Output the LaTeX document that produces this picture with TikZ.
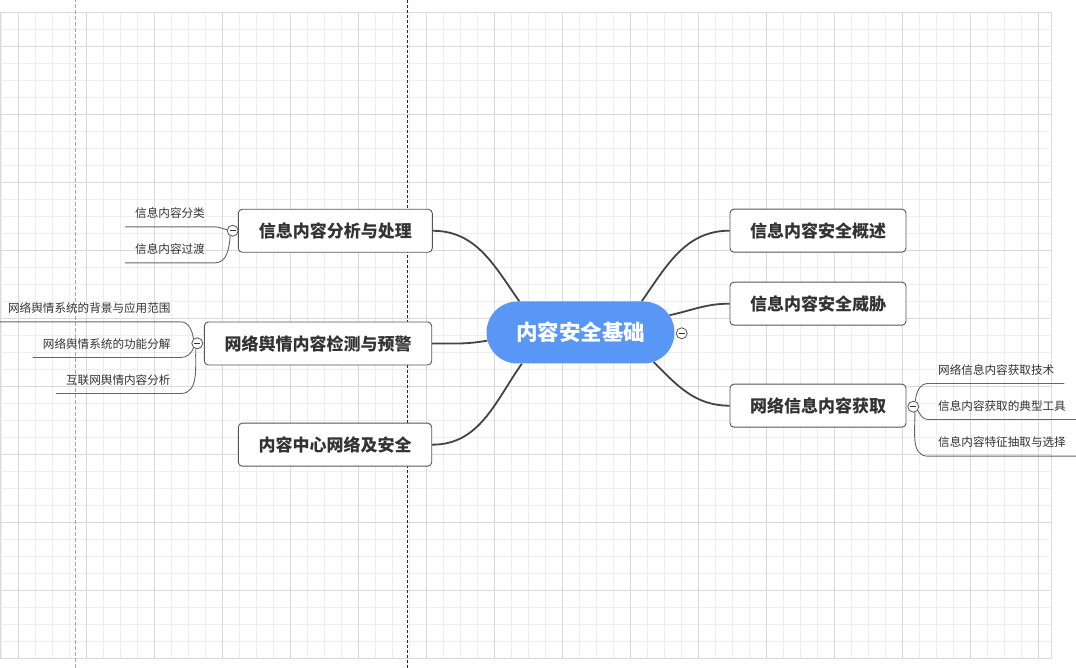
\documentclass[tikz,border=0pt]{standalone}
\usepackage{fontspec}
\setmainfont{Noto Sans CJK SC}
\usetikzlibrary{shapes.misc,backgrounds}
\definecolor{gridminor}{HTML}{EEEEEE}
\definecolor{gridmajor}{HTML}{DADADA}
\definecolor{nodeborder}{HTML}{555555}
\definecolor{textdark}{HTML}{333333}
\definecolor{linedark}{HTML}{444444}
\definecolor{linegray}{HTML}{666666}
\definecolor{mainblue}{HTML}{5897F5}
\definecolor{dashgray}{HTML}{A8A8A8}
\definecolor{dashblue}{HTML}{1010C8}
\begin{document}
\begin{tikzpicture}[x=1pt,y=1pt,
  branch/.style={draw=nodeborder, line width=0.9pt, fill=white, rounded corners=4pt,
    minimum height=43pt, inner sep=0pt, text=textdark,
    font=\fontsize{17}{17}\selectfont\bfseries},
  leaf/.style={inner xsep=10pt, inner ysep=0pt, minimum height=27pt, text=textdark,
    font=\fontsize{11.6}{11.6}\selectfont},
  collapse/.style={circle, draw=nodeborder, fill=white, line width=0.8pt,
    minimum size=11pt, inner sep=0pt,
    path picture={\draw[line width=0.9pt,textdark]
      ([xshift=-3pt]path picture bounding box.center) --
      ([xshift=3pt]path picture bounding box.center);}},
  trunk/.style={draw=linedark, line width=1.8pt},
  twig/.style={draw=linegray, line width=0.9pt},
  minorline/.style={draw=gridminor, line width=0.8pt},
  majorline/.style={draw=gridmajor, line width=0.8pt},
]
\useasboundingbox (0,0) rectangle (1076,668);

\begin{pgfonlayer}{background}
  \fill[white] (0,0) rectangle (1076,668);
  \foreach \i in {0,...,61} \draw[minorline] ({1.3+17*\i},9.7) -- ({1.3+17*\i},655.7);
  \foreach \j in {0,...,38} \draw[minorline] (1.3,{9.7+17*\j}) -- (1051.3,{9.7+17*\j});
  \foreach \i in {0,...,15} \draw[majorline] ({18.3+68*\i},9.7) -- ({18.3+68*\i},655.7);
  \foreach \j in {0,...,8} \draw[majorline] (1.3,{77.7+68*\j}) -- (1051.3,{77.7+68*\j});
  \draw[majorline] (0.5,9.7) rectangle (1051.3,655.7);
  \draw[dashgray, line width=0.9pt, dash pattern=on 4pt off 2pt] (75.3,0) -- (75.3,668);
  \draw[dashblue, line width=0.9pt, dash pattern=on 3pt off 2pt] (407.3,0) -- (407.3,668);
\end{pgfonlayer}

% central topic
\node[rounded rectangle, fill=mainblue, minimum width=188pt, minimum height=62pt,
  inner sep=0pt, text=white, font=\fontsize{21.5}{21.5}\selectfont\bfseries]
  (ctr) at (580.5,335.5) {内容安全基础};
\node[collapse] (cc) at (681.7,334.7) {};

% right branches
\node[branch, minimum width=176pt] (r1) at (818,437.3) {信息内容安全概述};
\node[branch, minimum width=176pt] (r2) at (818,364.3) {信息内容安全威胁};
\node[branch, minimum width=176pt] (r3) at (818,262.3) {网络信息内容获取};
\node[collapse] (cr3) at (913.3,261.3) {};

% left branches
\node[branch, minimum width=194pt] (l1) at (335.3,437.2) {信息内容分析与处理};
\node[collapse] (cl1) at (232.7,437.3) {};
\node[branch, minimum width=227.4pt] (l2) at (318,324.5) {网络舆情内容检测与预警};
\node[collapse] (cl2) at (197.3,324.7) {};
\node[branch, minimum width=193.4pt] (l3) at (335,223.3) {内容中心网络及安全};

% leaves of l1
\node[leaf, anchor=east] (a1) at (215,454.8) {信息内容分类};
\node[leaf, anchor=east] (a2) at (215,418.8) {信息内容过渡};
% leaves of l2
\node[leaf, anchor=east] (b1) at (180.7,359.8) {网络舆情系统的背景与应用范围};
\node[leaf, anchor=east] (b2) at (180.7,324.2) {网络舆情系统的功能分解};
\node[leaf, anchor=east] (b3) at (180.7,288.2) {互联网舆情内容分析};
% leaves of r3
\node[leaf, anchor=west] (d1) at (928,298.2) {网络信息内容获取技术};
\node[leaf, anchor=west] (d2) at (928,262.2) {信息内容获取的典型工具};
\node[leaf, anchor=west] (d3) at (928,225.5) {信息内容特征抽取与选择};

\begin{pgfonlayer}{background}
  % trunk connectors
  \draw[trunk] (l1.east) to[out=0,in=125] (ctr.153);
  \draw[trunk] (l2.east) to[out=0,in=190] (ctr.185);
  \draw[trunk] (l3.east) to[out=0,in=235] (ctr.-152);
  \draw[trunk] (r1.west) to[out=180,in=55] (ctr.27);
  \draw[trunk] (r2.west) to[out=180,in=12] (ctr.11);
  \draw[trunk] (r3.west) to[out=180,in=-45] (ctr.-22);
  % twigs
  \draw[twig] (a1.south west) -- (a1.south east) to[out=0,in=170] (cl1.170);
  \draw[twig] (a2.south west) -- (a2.south east) to[out=0,in=-95] (cl1.245);
  \draw[twig] (b1.south west) -- (b1.south east) to[out=0,in=100] (cl2.130);
  \draw[twig] (b2.south west) -- (b2.south east) to[out=0,in=250] (cl2.230);
  \draw[twig] (b3.south west) -- (b3.south east) to[out=0,in=268] (cl2.255);
  \draw[twig] (cr3.70) to[out=85,in=180] (d1.south west) -- (d1.south east);
  \draw[twig] (cr3.-40) to[out=-60,in=180] (d2.south west) -- (d2.south east);
  \draw[twig] (cr3.-75) to[out=-88,in=180] (d3.south west) -- (d3.south east);
\end{pgfonlayer}
\end{tikzpicture}
\end{document}
